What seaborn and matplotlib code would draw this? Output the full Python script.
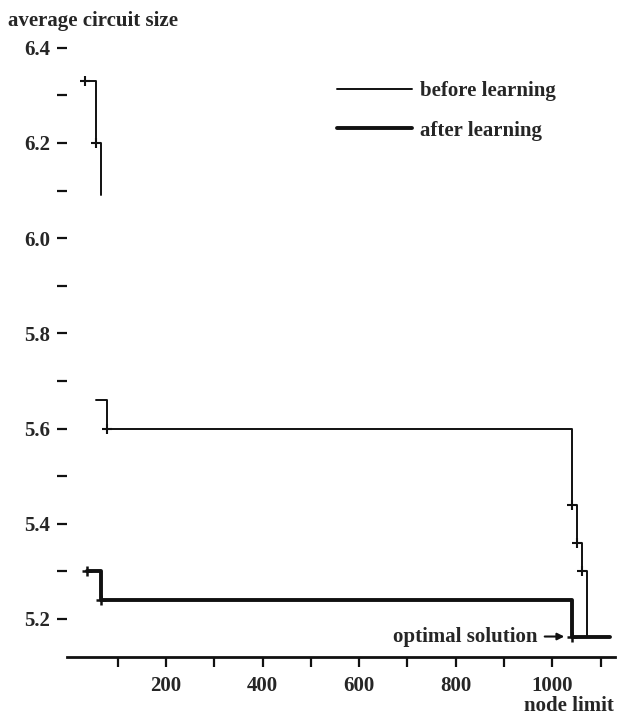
import pandas as pd
import seaborn as sns
import matplotlib.pyplot as plt
from matplotlib.ticker import MultipleLocator

# step curves: node limit vs average circuit size
# the before-learning curve has a gap between 6.09 and 5.66, so two pieces
before_top_x = [32, 55, 65]
before_top_y = [6.33, 6.20, 6.09]
before_x = [55, 77, 1040, 1052, 1062, 1072, 1120]
before_y = [5.66, 5.60, 5.44, 5.36, 5.30, 5.163, 5.163]
after_x = [36, 65, 1040, 1120]
after_y = [5.30, 5.24, 5.163, 5.163]

# points drawn with a cross
before_mark_x = [32, 55, 77, 1040, 1052, 1062]
before_mark_y = [6.33, 6.20, 5.60, 5.44, 5.36, 5.30]
after_mark_x = [36, 65, 1040]
after_mark_y = [5.30, 5.24, 5.163]

x_major = [200, 400, 600, 800, 1000]
x_minor = [100, 300, 500, 700, 900, 1100]
y_major = [5.2, 5.4, 5.6, 5.8, 6.0, 6.2, 6.4]
y_minor = [5.3, 5.5, 5.7, 5.9, 6.1, 6.3]

sns.set_style('ticks')
plt.rcParams['font.family'] = ['Liberation Serif', 'DejaVu Serif']
plt.rcParams['font.weight'] = 'bold'
plt.rcParams['font.size'] = 15

ink = '#111111'

fig = plt.figure(figsize=(6.18, 7.19), dpi=100)
ax = fig.add_axes([67 / 618, 62 / 719, (615 - 67) / 618, (657 - 47.7) / 719])

sns.lineplot(x=before_top_x, y=before_top_y, drawstyle='steps-post', color=ink,
             lw=1.4, estimator=None, sort=False, ax=ax)
sns.lineplot(x=before_x, y=before_y, drawstyle='steps-post', color=ink,
             lw=1.4, estimator=None, sort=False, ax=ax, label='before learning')
sns.lineplot(x=after_x, y=after_y, drawstyle='steps-post', color=ink,
             lw=2.8, estimator=None, sort=False, ax=ax, label='after learning')

sns.scatterplot(x=before_mark_x, y=before_mark_y, marker='+', s=55,
                color=ink, linewidth=1.5, ax=ax, zorder=3)
sns.scatterplot(x=after_mark_x, y=after_mark_y, marker='+', s=55,
                color=ink, linewidth=1.8, ax=ax, zorder=3)

ax.set_xlim(-5, 1130)
ax.set_ylim(5.12, 6.4)

ax.set_xticks(x_major)
ax.set_xticklabels([str(v) for v in x_major])
ax.set_xticks(x_minor, minor=True)
ax.set_yticks(y_major)
ax.set_yticklabels(['%.1f' % v for v in y_major])
ax.set_yticks(y_minor, minor=True)

for side in ['top', 'right', 'left']:
    ax.spines[side].set_visible(False)
ax.spines['bottom'].set_linewidth(2)
ax.spines['bottom'].set_color(ink)

ax.tick_params(axis='x', which='both', direction='out', length=7, width=1.6,
               pad=7, color=ink, labelsize=15)
ax.tick_params(axis='y', which='both', direction='out', length=7, width=1.6,
               pad=5, color=ink, labelsize=15)

ax.annotate('optimal solution', xy=(1025, 5.163), xytext=(969, 5.163),
            ha='right', va='center', fontsize=15,
            arrowprops=dict(arrowstyle='-|>', color=ink, lw=1.5,
                            shrinkA=3, shrinkB=0, mutation_scale=10))

ax.legend(loc='upper left', bbox_to_anchor=(337 / 618, 1 - 81 / 719),
          bbox_transform=fig.transFigure, frameon=False, borderpad=0,
          borderaxespad=0, handlelength=3.6, handletextpad=0.4,
          labelspacing=0.95, fontsize=15)

ax.set_xlabel('')
ax.set_ylabel('')
fig.text(8 / 618, 1 - 11 / 719, 'average circuit size', ha='left', va='top',
         fontsize=15)
fig.text(614 / 618, 3 / 719, 'node limit', ha='right', va='bottom', fontsize=15)

fig.savefig('out.png', dpi=100)
